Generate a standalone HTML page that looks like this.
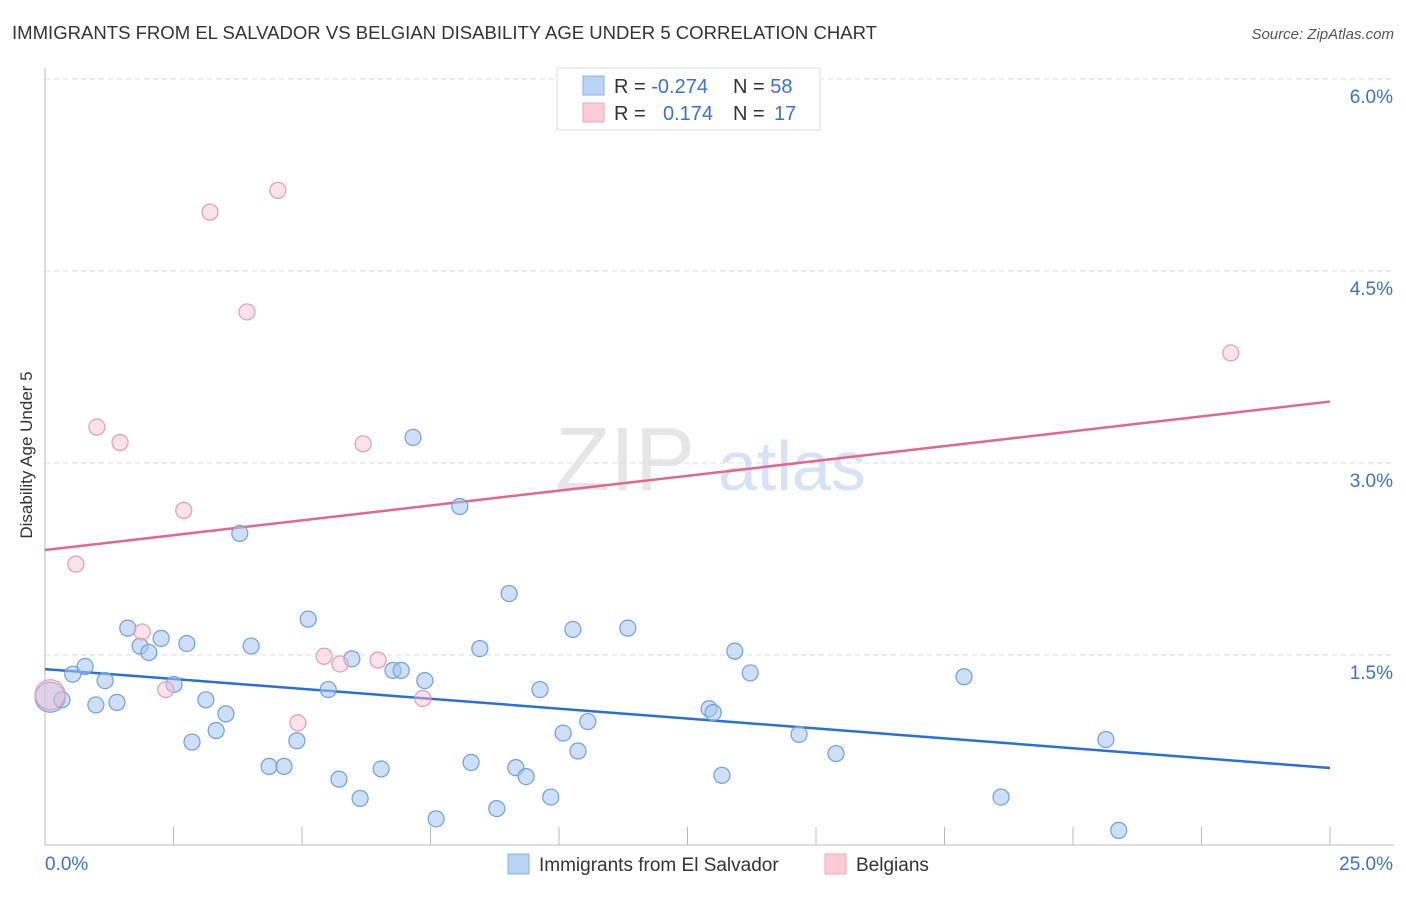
<!DOCTYPE html>
<html><head><meta charset="utf-8">
<style>
body{margin:0;background:#fff;font-family:"Liberation Sans",sans-serif;}
svg text{font-family:"Liberation Sans",sans-serif;}
</style></head>
<body>
<svg id="chart" width="1406" height="892">
<text x="12" y="39" font-size="18" fill="#333" textLength="865" lengthAdjust="spacingAndGlyphs">IMMIGRANTS FROM EL SALVADOR VS BELGIAN DISABILITY AGE UNDER 5 CORRELATION CHART</text>
<text x="1394" y="39" font-size="15" fill="#555" font-style="italic" text-anchor="end">Source: ZipAtlas.com</text>
<text x="32" y="455" font-size="17" fill="#333" text-anchor="middle" transform="rotate(-90 32 455)">Disability Age Under 5</text>
<g><text x="555" y="490" font-size="90" fill="#e6e6e6" font-family="Liberation Serif">ZIP</text><text x="718" y="490" font-size="70" fill="#d6e3f4">atlas</text></g>
<g id="grid"></g><g id="axes"></g><g id="lines"></g><g id="pts"></g>
<g>
<rect x="557" y="68" width="263" height="62" fill="#fff" stroke="#ddd"/>
<rect x="583" y="76" width="21" height="19" fill="#b9d3f5" stroke="#8ab0e0"/>
<rect x="583" y="103" width="21" height="19" fill="#fbcbd8" stroke="#eba9bd"/>
<text x="614" y="93" font-size="20" fill="#333">R = <tspan fill="#3a70d0">-0.274</tspan><tspan x="733">N = </tspan><tspan fill="#3a70d0">58</tspan></text>
<text x="614" y="120" font-size="20" fill="#333">R = <tspan x="663" fill="#3a70d0">0.174</tspan><tspan x="733">N = </tspan><tspan x="774" fill="#3a70d0">17</tspan></text>
</g>
<g>
<rect x="508" y="854" width="21" height="20" fill="#b9d3f5" stroke="#8ab0e0"/>
<text x="539" y="871" font-size="19" fill="#333">Immigrants from El Salvador</text>
<rect x="825" y="854" width="21" height="20" fill="#fbcbd8" stroke="#eba9bd"/>
<text x="856" y="871" font-size="19" fill="#333">Belgians</text>
</g>
</svg>
<script>
const blueX=[0.10,0.33,0.54,0.78,0.99,1.17,1.40,1.61,1.85,2.02,2.26,2.51,2.76,2.86,3.13,3.33,3.52,3.79,4.01,4.36,4.65,4.90,5.12,5.51,5.72,5.97,6.13,6.54,6.77,6.93,7.16,7.39,7.61,8.07,8.29,8.46,8.79,9.03,9.16,9.36,9.63,9.84,10.08,10.27,10.37,10.56,11.34,12.92,13.00,13.17,13.42,13.72,14.67,15.39,17.88,18.60,20.64,20.89];
const blueY=[1.17,1.15,1.35,1.41,1.11,1.30,1.13,1.71,1.57,1.52,1.63,1.27,1.59,0.82,1.15,0.91,1.04,2.45,1.57,0.63,0.63,0.83,1.78,1.23,0.53,1.47,0.38,0.61,1.38,1.38,3.20,1.30,0.22,2.66,0.66,1.55,0.30,1.98,0.62,0.55,1.23,0.39,0.89,1.70,0.75,0.98,1.71,1.08,1.05,0.56,1.53,1.36,0.88,0.73,1.33,0.39,0.84,0.13];
const pinkX=[0.10,0.60,1.01,1.46,1.89,2.35,2.70,3.21,3.93,4.53,4.92,5.43,5.74,6.19,6.48,7.35,23.07];
const pinkY=[1.19,2.21,3.28,3.16,1.68,1.23,2.63,4.96,4.18,5.13,0.97,1.49,1.43,3.15,1.46,1.16,3.86];
const blueTrend=[1.39,0.617];
const pinkTrend=[2.32,3.48];
const yTicks=[1.5,3.0,4.5,6.0];
const ns='http://www.w3.org/2000/svg';
const sx=v=>45+v/25*1285, sy=v=>847-v*128;
function mk(p,t,a){const e=document.createElementNS(ns,t);for(const k in a)e.setAttribute(k,a[k]);p.appendChild(e);return e;}
const grid=document.getElementById('grid'),axes=document.getElementById('axes'),lines=document.getElementById('lines'),pts=document.getElementById('pts');
yTicks.forEach(t=>{
 const l=mk(grid,'line',{x1:45,x2:1394,y1:sy(t),y2:sy(t),stroke:'#ddd','stroke-dasharray':'5,4'});
 
 
 const tx=mk(axes,'text',{x:1393,y:sy(t)+24,'font-size':19,fill:'#3a70d0','text-anchor':'end'});tx.textContent=t.toFixed(1)+'%';
 
 
});
const ya=mk(axes,'line',{x1:45,x2:45,y1:68,y2:845,stroke:'#bbb'});


const xa=mk(axes,'line',{x1:45,x2:1394,y1:845,y2:845,stroke:'#bbb'});


for(let i=1;i<=10;i++){const t=mk(axes,'line',{x1:sx(i*2.5),x2:sx(i*2.5),y1:827,y2:845,stroke:'#bbb'});
 
 }
const x0=mk(axes,'text',{x:45,y:870,'font-size':19,fill:'#3a70d0'});x0.textContent='0.0%';


const x1=mk(axes,'text',{x:1393,y:870,'font-size':19,fill:'#3a70d0','text-anchor':'end'});x1.textContent='25.0%';


function series(X,Y,fill,stroke,name){X.forEach((x,i)=>{const c=mk(pts,'circle',{cx:sx(x),cy:sy(Y[i]),r:i==0?15:8,fill:fill,stroke:stroke,'stroke-width':1.2});
 
 });}
series(blueX,blueY,'rgba(165,198,240,0.55)','#6f9fdc','point-el-salvador');
series(pinkX,pinkY,'rgba(248,190,208,0.45)','#e59ab3','point-belgians');
const bl=mk(lines,'line',{x1:sx(0),y1:sy(blueTrend[0]),x2:sx(25),y2:sy(blueTrend[1]),stroke:'#2a6fd6','stroke-width':2.5});


const pl=mk(lines,'line',{x1:sx(0),y1:sy(pinkTrend[0]),x2:sx(25),y2:sy(pinkTrend[1]),stroke:'#e06890','stroke-width':2.5});


</script>
</body></html>
